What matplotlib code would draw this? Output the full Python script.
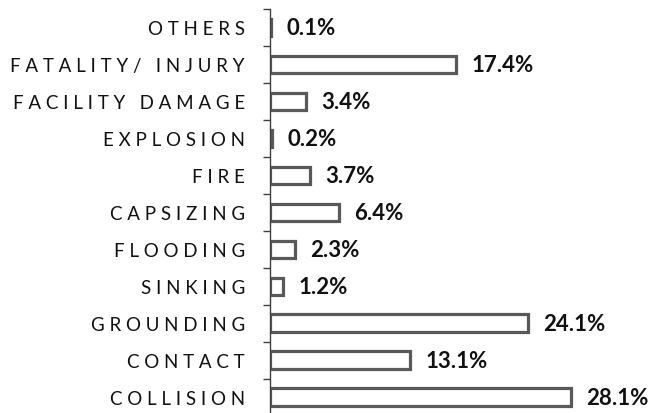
import matplotlib.pyplot as plt
import numpy as np

categories = ['COLLISION', 'CONTACT', 'GROUNDING', 'SINKING', 'FLOODING',
              'CAPSIZING', 'FIRE', 'EXPLOSION', 'FACILITY DAMAGE',
              'FATALITY/ INJURY', 'OTHERS']
shares = [28.1, 13.1, 24.1, 1.2, 2.3, 6.4, 3.7, 0.2, 3.4, 17.4, 0.1]

plt.rcParams['font.family'] = ['Lato', 'DejaVu Sans']


def spaced(s, gap='\u2009\u2009'):
    return gap.join(s)


fig = plt.figure(figsize=(6.51, 4.14), dpi=100)
ax = fig.add_axes([270 / 651, 0, 380 / 651, 404 / 414])

y = np.arange(len(categories))
ax.barh(y, shares, height=0.47, color='white', edgecolor='#595959', linewidth=2.3)

for yi, v in zip(y, shares):
    ax.annotate(f'{v}%', (v, yi), xytext=(11, 0), textcoords='offset points',
                va='center', ha='left', fontsize=16, fontweight='bold', color='#111111')

ax.set_xlim(0, 35.5)
ax.set_ylim(-0.43, len(categories) - 0.5)

ax.set_yticks(y)
ax.set_yticklabels([spaced(c) for c in categories], fontsize=13.5, color='#111111')
ax.tick_params(axis='y', which='major', length=0, pad=18)
ax.set_yticks(np.arange(len(categories)) + 0.5, minor=True)
ax.tick_params(axis='y', which='minor', length=5, width=1, color='#404040', direction='out')
ax.set_xticks([])

for side in ['top', 'right', 'bottom']:
    ax.spines[side].set_visible(False)
ax.spines['left'].set_color('#404040')
ax.spines['left'].set_linewidth(1)

fig.savefig('out.png', dpi=100)
